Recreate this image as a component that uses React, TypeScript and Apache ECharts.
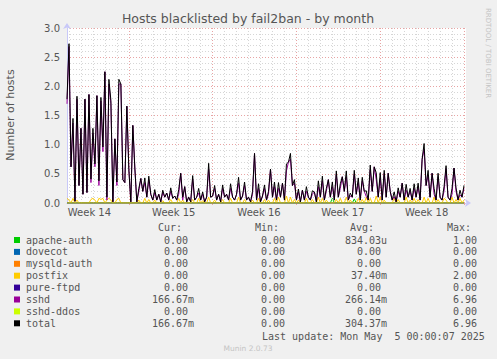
import React, { useEffect, useRef } from "react";
import * as echarts from "echarts";

const TITLE = "Hosts blacklisted by fail2ban - by month";
const Y_NAME = "Number of hosts";
const STEP_HOURS = 4;
const SPAN_HOURS = 800;
const MONDAYS = [124, 292, 460, 628, 796];
const WEEK_LABEL_POS = [45, 214, 385, 553, 721];
const WEEK_LABELS = ["Week 14", "Week 15", "Week 16", "Week 17", "Week 18"];

const SERIES_NAMES = ["apache-auth", "dovecot", "mysqld-auth", "postfix", "pure-ftpd", "sshd", "sshd-ddos", "total"];
const SERIES_COLORS = ["#00CC00", "#0066B3", "#FF8000", "#FFCC00", "#330099", "#990099", "#CCFF00", "#000000"];

const CUR = ["0.00", "0.00", "0.00", "0.00", "0.00", "166.67m", "0.00", "166.67m"];
const MIN = ["0.00", "0.00", "0.00", "0.00", "0.00", "0.00", "0.00", "0.00"];
const AVG = ["834.03u", "0.00", "0.00", "37.40m", "0.00", "266.14m", "0.00", "304.37m"];
const MAX = ["1.00", "0.00", "0.00", "2.00", "0.00", "6.96", "0.00", "6.96"];
const LAST_UPDATE = "Last update: Mon May  5 00:00:07 2025";

// sshd, one value every 4 hours
const SSHD = [
  1.70, 2.68, 0.62, 1.37, 0.03, 1.78, 0.30, 1.28, 0.15, 1.78,
  0.18, 1.86, 0.35, 1.20, 0.62, 1.84, 0.30, 1.75, 0.88, 2.25,
  0.05, 2.04, 1.71, 0.02, 1.10, 0.30, 2.04, 2.04, 0.40, 0.35,
  1.66, 0.57, 0.02, 1.33, 0.60, 0.02, 0.20, 0.42, 0.20, 0.35,
  0.10, 0.40, 0.15, 0.05, 0.18, 0.05, 0.15, 0.02, 0.18, 0.10,
  0.17, 0.05, 0.20, 0.08, 0.12, 0.05, 0.15, 0.51, 0.05, 0.28,
  0.02, 0.10, 0.02, 0.41, 0.05, 0.10, 0.17, 0.05, 0.15, 0.02,
  0.10, 0.58, 0.10, 0.12, 0.25, 0.05, 0.15, 0.02, 0.25, 0.10,
  0.15, 0.05, 0.25, 0.10, 0.05, 0.15, 0.34, 0.05, 0.12, 0.30,
  0.05, 0.10, 0.02, 0.15, 0.85, 0.05, 0.25, 0.02, 0.12, 0.25,
  0.05, 0.15, 0.58, 0.10, 0.28, 0.05, 0.25, 0.10, 0.34, 0.05,
  0.55, 0.70, 0.75, 0.30, 0.34, 0.05, 0.19, 0.02, 0.22, 0.05,
  0.20, 0.10, 0.05, 0.15, 0.19, 0.02, 0.28, 0.10, 0.38, 0.05,
  0.20, 0.40, 0.10, 0.28, 0.05, 0.49, 0.10, 0.25, 0.45, 0.20,
  0.45, 0.05, 0.12, 0.10, 0.49, 0.15, 0.35, 0.05, 0.38, 0.20,
  0.11, 0.05, 0.57, 0.20, 0.62, 0.40, 0.10, 0.42, 0.05, 0.51,
  0.10, 0.51, 0.20, 0.05, 0.11, 0.02, 0.20, 0.10, 0.34, 0.05,
  0.22, 0.10, 0.20, 0.05, 0.25, 0.10, 0.28, 0.05, 0.75, 0.92,
  0.30, 0.48, 0.10, 0.51, 0.15, 0.05, 0.45, 0.10, 0.05, 0.20,
  0.59, 0.10, 0.05, 0.15, 0.60, 0.20, 0.05, 0.14, 0.10, 0.25,
];

// [index of 4-hour slot, value]
const POSTFIX_POINTS: [number, number][] = [
  [0, 0.08], [1, 0.05], [3, 0.08], [5, 0.05], [12, 0.06], [13, 0.08], [14, 0.05], [16, 0.08],
  [17, 0.06], [18, 0.08], [20, 0.05], [21, 0.08], [22, 0.05], [25, 0.06], [26, 0.08],
  [36, 0.05], [39, 0.08], [41, 0.06], [44, 0.05], [48, 0.04], [52, 0.06], [56, 0.08], [58, 0.05],
  [63, 0.06], [66, 0.08], [68, 0.04], [71, 0.10], [74, 0.05], [78, 0.06], [82, 0.08], [86, 0.10],
  [89, 0.06], [93, 0.05], [96, 0.08], [99, 0.06], [101, 0.05], [104, 0.08], [106, 0.10], [110, 0.12],
  [112, 0.10], [114, 0.06], [116, 0.05], [120, 0.08], [123, 0.06], [126, 0.10], [128, 0.08], [130, 0.05],
  [135, 0.06], [137, 0.08], [140, 0.10], [142, 0.05], [146, 0.08], [148, 0.06], [150, 0.10], [152, 0.08],
  [155, 0.12], [157, 0.10], [159, 0.05], [164, 0.08], [166, 0.06], [170, 0.10], [172, 0.05], [174, 0.08],
  [176, 0.06], [179, 0.10], [181, 0.08], [184, 0.10], [186, 0.06], [189, 0.08], [190, 0.05], [193, 0.10],
  [195, 0.06], [197, 0.08], [199, 0.05],
];
const APACHE_POINTS: [number, number][] = [[133, 0.08], [144, 0.07]];

const N = SSHD.length;
function expand(points: [number, number][]): number[] {
  const a = new Array(N).fill(0);
  points.forEach(([i, v]) => { a[i] = v; });
  return a;
}

export default function App() {
  const ref = useRef<HTMLDivElement>(null);
  useEffect(() => {
    if (!ref.current) return;
    const chart = echarts.init(ref.current, null, { renderer: "svg" });

    const apache = expand(APACHE_POINTS);
    const postfix = expand(POSTFIX_POINTS);
    const zeros = new Array(N).fill(0);
    const total = SSHD.map((v, i) => +(v + postfix[i] + apache[i]).toFixed(3));
    const values = [apache, zeros, zeros, postfix, zeros, SSHD, zeros, total];

    const toPairs = (arr: number[]) => arr.map((v, i) => [i * STEP_HOURS, v]);

    const gridLines: any[] = [];
    for (let h = MONDAYS[0] % 24; h < SPAN_HOURS; h += 24) {
      const major = MONDAYS.includes(h);
      gridLines.push({
        xAxis: h,
        lineStyle: major
          ? { color: "#e8a4a4", type: [1, 2], width: 1 }
          : { color: "#d6d6d6", type: [1, 2], width: 1 },
      });
    }

    const font = "DejaVu Sans";
    const mono = '10px "DejaVu Sans Mono"';
    const CW = 6.02;
    const textColor = "#555";
    const ROW0 = 240;
    const ROWSTEP = 11.9;

    const graphics: any[] = [
      {
        type: "text", x: 248, y: 18,
        style: { text: TITLE, font: `12.5px "${font}"`, fill: textColor, textAlign: "center", textVerticalAlign: "middle" },
      },
      {
        type: "text", x: 10, y: 115, rotation: Math.PI / 2,
        style: { text: Y_NAME, font: `11px "${font}"`, fill: textColor, textAlign: "center", textVerticalAlign: "middle" },
      },
      {
        type: "text", x: 488, y: 53, rotation: -Math.PI / 2,
        style: { text: "RRDTOOL / TOBI OETIKER", font: `7px "${font}"`, fill: "#c4c4c4", textAlign: "center", textVerticalAlign: "middle" },
      },
      {
        type: "text", x: 248, y: 348,
        style: { text: "Munin 2.0.73", font: `7.5px "${font}"`, fill: "#c4c4c4", textAlign: "center", textVerticalAlign: "middle" },
      },
    ];

    const headers: [string, number][] = [["Cur:", 158], ["Min:", 255], ["Avg:", 350], ["Max:", 447]];
    headers.forEach(([t, x]) => {
      graphics.push({ type: "text", x, y: 227.3, style: { text: t, font: mono, fill: textColor, textAlign: "left", textVerticalAlign: "middle" } });
    });

    const colEnds = [188, 285, 381, 477];
    const cols = [CUR, MIN, AVG, MAX];
    SERIES_NAMES.forEach((name, r) => {
      const y = ROW0 + r * ROWSTEP;
      graphics.push({ type: "rect", shape: { x: 14, y: y - 3, width: 6, height: 6 }, style: { fill: SERIES_COLORS[r] } });
      graphics.push({ type: "text", x: 26, y, style: { text: name, font: mono, fill: textColor, textAlign: "left", textVerticalAlign: "middle" } });
      cols.forEach((col, c) => {
        const s = col[r];
        const numLen = /[0-9]$/.test(s) ? s.length : s.length - 1;
        graphics.push({
          type: "text", x: colEnds[c] - numLen * CW, y,
          style: { text: s, font: mono, fill: textColor, textAlign: "left", textVerticalAlign: "middle" },
        });
      });
    });
    graphics.push({
      type: "text", x: 262, y: 336.5,
      style: { text: LAST_UPDATE, font: mono, fill: textColor, textAlign: "left", textVerticalAlign: "middle" },
    });

    const series: any[] = [
      {
        type: "line", name: "grid", data: [], z: 1, silent: true,
        markLine: { silent: true, symbol: ["none", "none"], label: { show: false }, data: gridLines, animation: false },
      },
    ];
    SERIES_NAMES.forEach((name, k) => {
      series.push({
        type: "line", name, data: toPairs(values[k]), showSymbol: false, symbol: "none",
        lineStyle: { color: SERIES_COLORS[k], width: 1 }, itemStyle: { color: SERIES_COLORS[k] },
        z: 3 + k, silent: true, emphasis: { disabled: true },
      });
    });

    chart.setOption({
      animation: false,
      backgroundColor: "#f0f0f0",
      textStyle: { fontFamily: font },
      grid: { left: 67, top: 28, width: 399, height: 175, show: true, backgroundColor: "#ffffff", borderWidth: 0, containLabel: false },
      xAxis: {
        type: "value", min: 0, max: SPAN_HOURS,
        axisLine: { show: true, lineStyle: { color: "#c8c8f8", width: 1 }, symbol: ["none", "arrow"], symbolSize: [6, 6], symbolOffset: [0, 5] },
        axisTick: { show: true, customValues: MONDAYS, length: 2, lineStyle: { color: "#e8a4a4" } },
        axisLabel: {
          customValues: WEEK_LABEL_POS,
          formatter: (v: number) => WEEK_LABELS[WEEK_LABEL_POS.indexOf(v)] ?? "",
          color: textColor, fontSize: 10, fontFamily: font, margin: 4,
        },
        splitLine: { show: false },
      },
      yAxis: {
        type: "value", min: 0, max: 3, interval: 0.5,
        axisLine: { show: true, lineStyle: { color: "#c8c8f8", width: 1 }, symbol: ["none", "arrow"], symbolSize: [6, 6], symbolOffset: [0, 5] },
        axisTick: { show: false },
        axisLabel: { formatter: (v: number) => v.toFixed(1), color: textColor, fontSize: 10, fontFamily: font, margin: 7 },
        splitLine: { show: true, lineStyle: { color: "#e8a4a4", type: [1, 2], width: 1 } },
        minorTick: { show: false, splitNumber: 5 },
        minorSplitLine: { show: true, lineStyle: { color: "#d6d6d6", type: [1, 2], width: 1 } },
      },
      series,
      graphic: graphics,
    });
    return () => chart.dispose();
  }, []);
  return <div ref={ref} style={{ position: "fixed", left: 0, top: 0, width: 497, height: 359 }} />;
}
